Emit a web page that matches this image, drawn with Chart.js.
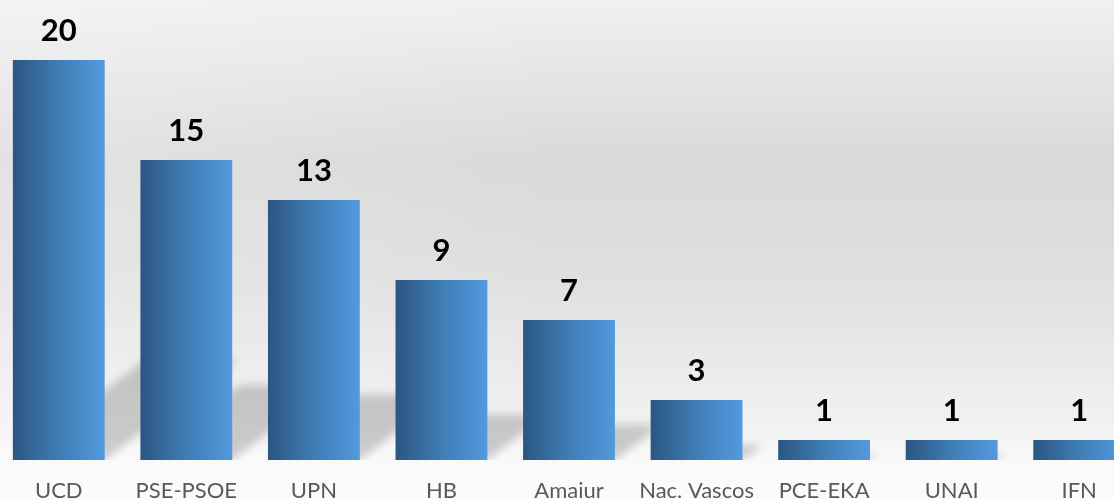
<!DOCTYPE html>
<html>
<head>
<meta charset="utf-8">
<script src="https://cdn.jsdelivr.net/npm/chart.js@4"></script>
<style>
  html, body { margin: 0; padding: 0; overflow: hidden; background: #fafafa; }
  #wrap { position: absolute; left: -5px; top: 0; width: 1148px; height: 499px; }
</style>
</head>
<body>
<div id="wrap"><canvas id="chart"></canvas></div>
<script>
var parties = ["UCD", "PSE-PSOE", "UPN", "HB", "Amaiur", "Nac. Vascos", "PCE-EKA", "UNAI", "IFN"];
var seats = [20, 15, 13, 9, 7, 3, 1, 1, 1];

var barPct = 0.72;

// soft gray backdrop, darker band in the middle
var backdrop = {
    id: "backdrop",
    beforeDraw: function(chart) {
        var ctx = chart.ctx;
        var h = chart.height;
        var g = ctx.createLinearGradient(0, 0, 0, h);
        g.addColorStop(0, "#f0f0f0");
        g.addColorStop(0.32, "#d9d9d9");
        g.addColorStop(0.55, "#dfdfdf");
        g.addColorStop(0.86, "#f2f2f2");
        g.addColorStop(0.93, "#fafafa");
        g.addColorStop(1, "#fbfbfb");
        ctx.save();
        ctx.fillStyle = g;
        ctx.fillRect(0, 0, chart.width, h);
        // lighten the left side a bit
        var r = ctx.createLinearGradient(0, 0, chart.width, 0);
        r.addColorStop(0, "rgba(255,255,255,0.25)");
        r.addColorStop(0.5, "rgba(255,255,255,0)");
        ctx.fillStyle = r;
        ctx.fillRect(0, 0, chart.width, chart.chartArea.bottom);
        ctx.restore();
    }
};

// slanted floor shadows behind each bar
var floorShadow = {
    id: "floorShadow",
    beforeDatasetsDraw: function(chart) {
        var ctx = chart.ctx;
        var meta = chart.getDatasetMeta(0);
        var base = chart.chartArea.bottom;
        ctx.save();
        ctx.beginPath();
        ctx.rect(0, 0, chart.width, base);
        ctx.clip();
        ctx.filter = "blur(4px)";
        ctx.fillStyle = "rgba(0,0,0,0.18)";
        ctx.beginPath();
        meta.data.forEach(function(bar) {
            var h = base - bar.y;
            var l = bar.x - bar.width / 2, r = bar.x + bar.width / 2;
            var dx = h * 0.33, dy = h * 0.25;
            ctx.moveTo(l, base);
            ctx.lineTo(r, base);
            ctx.lineTo(r + dx, base - dy);
            ctx.lineTo(l + dx, base - dy);
            ctx.closePath();
        });
        ctx.fill("nonzero");
        ctx.restore();
    }
};

var valueLabels = {
    id: "valueLabels",
    afterDatasetsDraw: function(chart) {
        var ctx = chart.ctx;
        var meta = chart.getDatasetMeta(0);
        ctx.save();
        ctx.font = "bold 31px Lato";
        ctx.fillStyle = "#000";
        ctx.textAlign = "center";
        ctx.textBaseline = "alphabetic";
        meta.data.forEach(function(bar, i) {
            ctx.fillText(seats[i], bar.x, bar.y - 19);
        });
        ctx.restore();
    }
};

function barFill(c) {
    var chart = c.chart;
    if (!chart.chartArea) return "#4080b8";
    var xs = chart.scales.x;
    var cx = xs.getPixelForValue(c.dataIndex);
    var w = (chart.chartArea.width / parties.length) * barPct;
    var g = chart.ctx.createLinearGradient(cx - w / 2, 0, cx + w / 2, 0);
    g.addColorStop(0, "#2b5780");
    g.addColorStop(0.12, "#305f8d");
    g.addColorStop(0.5, "#3f7db5");
    g.addColorStop(1, "#529ade");
    return g;
}

new Chart(document.getElementById("chart"), {
    type: "bar",
    data: {
        labels: parties,
        datasets: [{
            data: seats,
            backgroundColor: barFill,
            borderWidth: 0,
            categoryPercentage: 1,
            barPercentage: barPct
        }]
    },
    options: {
        responsive: true,
        maintainAspectRatio: false,
        animation: false,
        layout: { padding: 0 },
        plugins: {
            legend: { display: false },
            tooltip: { enabled: false }
        },
        scales: {
            x: {
                grid: { display: false, drawTicks: false },
                border: { display: false },
                ticks: {
                    color: "#595959",
                    font: { family: "Lato", size: 22 },
                    padding: 18,
                    maxRotation: 0,
                    autoSkip: false
                },
                afterFit: function(s) { s.height = 39; }
            },
            y: {
                display: false,
                min: 0,
                max: 23
            }
        }
    },
    plugins: [backdrop, floorShadow, valueLabels]
});
</script>
</body>
</html>
